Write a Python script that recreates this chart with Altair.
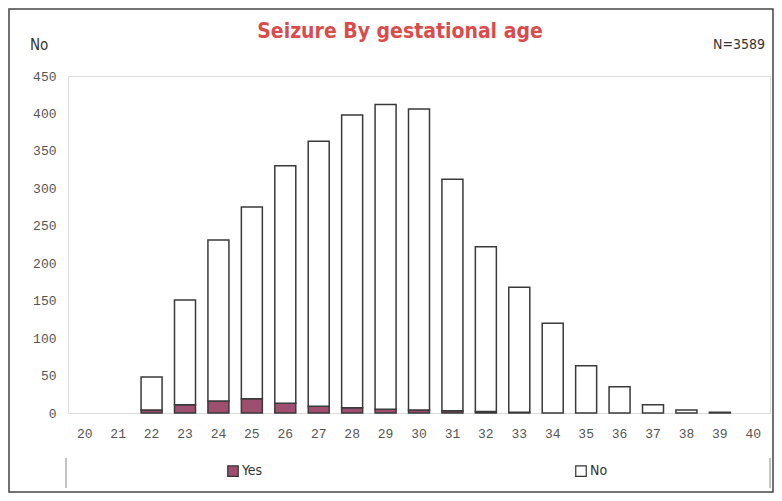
import altair as alt
import pandas as pd

weeks = list(range(20, 41))
totals = [0, 0, 48, 151, 231, 275, 330, 363, 398, 412, 406, 312, 222, 168, 120, 63, 35, 11, 4, 1, 0]
yes_vals = [0, 0, 4, 11, 16, 19, 13, 9, 7, 5, 4, 3, 2, 1, 0, 0, 0, 0, 0, 0, 0]
no_vals = [t - y for t, y in zip(totals, yes_vals)]

rows = []
for w, y, n in zip(weeks, yes_vals, no_vals):
    rows.append({"week": str(w), "group": "Yes", "count": y, "ord": 0})
    rows.append({"week": str(w), "group": "No", "count": n, "ord": 1})
df = pd.DataFrame(rows)

W, H = 702, 337
week_labels = [str(w) for w in weeks]

bars = alt.Chart(df).transform_filter("datum.count > 0").mark_bar(stroke="#3a3a3a", strokeWidth=1.5, width=21).encode(
    x=alt.X("week:O", sort=week_labels, scale=alt.Scale(domain=week_labels, paddingInner=0.37, paddingOuter=0.185),
            axis=alt.Axis(title=None, labelAngle=0, ticks=False, domain=False, labelPadding=14,
                          labelFont="Liberation Mono", labelFontSize=13, labelColor="#555")),
    y=alt.Y("count:Q", stack="zero", scale=alt.Scale(domain=[0, 450], nice=False),
            axis=alt.Axis(title=None, values=list(range(0, 451, 50)), grid=False, ticks=False, domain=False,
                          labelPadding=12, labelFont="Liberation Mono", labelFontSize=13, labelColor="#555")),
    color=alt.Color("group:N", scale=alt.Scale(domain=["Yes", "No"], range=["#9e4f6f", "#ffffff"]),
                    legend=alt.Legend(title=None, orient="none", legendX=158, legendY=388, direction="horizontal",
                                      symbolType="square", symbolSize=110, symbolStrokeColor="#333",
                                      symbolStrokeWidth=1.2, columnPadding=310, labelFontSize=14,
                                      labelFont="DejaVu Sans Condensed", labelColor="#333", labelOffset=2)),
    order=alt.Order("ord:Q", sort="ascending"),
)

texts = pd.DataFrame({"t": ["Seizure By gestational age"]})
title = alt.Chart(texts).mark_text(fontSize=21, fontWeight="bold", color="#d94c4c",
                                   font="DejaVu Sans Condensed", align="center", baseline="middle").encode(
    x=alt.value(332), y=alt.value(-44), text="t:N")
no_lbl = alt.Chart(pd.DataFrame({"t": ["No"]})).mark_text(fontSize=15, color="#333", align="left",
                                                           font="DejaVu Sans Condensed", baseline="middle").encode(
    x=alt.value(-38), y=alt.value(-31), text="t:N")
n_lbl = alt.Chart(pd.DataFrame({"t": ["N=3589"]})).mark_text(fontSize=14, color="#333", align="right",
                                                              font="DejaVu Sans Condensed", baseline="middle").encode(
    x=alt.value(697), y=alt.value(-31), text="t:N")

frame = alt.Chart(pd.DataFrame({"a": [0]})).mark_rect(fill=None, stroke="#444", strokeWidth=1.5, clip=False).encode(
    x=alt.value(-59), x2=alt.value(705), y=alt.value(-67), y2=alt.value(416))
leg_l = alt.Chart(pd.DataFrame({"a": [0]})).mark_rule(stroke="#888", strokeWidth=1).encode(
    x=alt.value(-2), y=alt.value(382), y2=alt.value(412))
leg_r = alt.Chart(pd.DataFrame({"a": [0]})).mark_rule(stroke="#888", strokeWidth=1).encode(
    x=alt.value(702), y=alt.value(382), y2=alt.value(412))

chart = alt.layer(bars, title, no_lbl, n_lbl, frame, leg_l, leg_r).properties(
    width=W, height=H,
    autosize=alt.AutoSizeParams(type="none"),
    padding={"left": 60, "top": 68, "right": 4, "bottom": 80},
).configure_view(stroke="#777", strokeWidth=1.3, strokeDash=[1.5, 1]).configure(background="white")

chart.save("out.html", embed_options={"renderer": "svg", "actions": False})
